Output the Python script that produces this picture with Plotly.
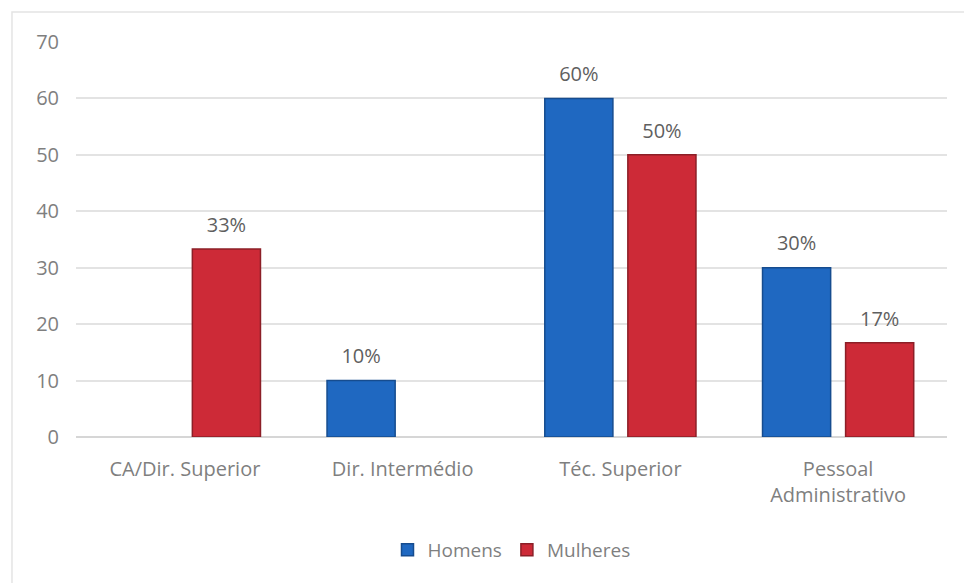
import plotly.graph_objects as go

categories = ["CA/Dir. Superior", "Dir. Intermédio", "Téc. Superior", "Pessoal<br>Administrativo"]
homens = [None, 10, 60, 30]
mulheres = [33.3, None, 50, 16.7]

series = [
    ("Homens", homens, "#1f68c1", "#164c8f"),
    ("Mulheres", mulheres, "#cd2a37", "#8c1f27"),
]

FONT = "Open Sans, Noto Sans, sans-serif"
TEXT_GREY = "#5f5f5f"
TICK_GREY = "#7f7f7f"
FS = 20

fig = go.Figure()
for name, vals, fill, edge in series:
    fig.add_trace(go.Bar(
        name=name, x=categories, y=vals,
        marker=dict(color=fill, line=dict(color=edge, width=1.5)),
    ))

# value labels placed above each bar, aligned to the grouped bar slots
for name, vals, fill, edge in series:
    fig.add_trace(go.Scatter(
        x=categories, y=vals, mode="markers+text",
        text=[None if v is None else f"{v:.0f}%" for v in vals],
        textposition="top center",
        textfont=dict(family=FONT, size=FS, color=TEXT_GREY),
        marker=dict(size=18, opacity=0),
        showlegend=False, hoverinfo="skip", cliponaxis=False,
    ))

fig.update_layout(
    width=964, height=583,
    margin=dict(l=76, r=17, t=42, b=146),
    paper_bgcolor="white", plot_bgcolor="white",
    barmode="group", bargap=0.237, bargroupgap=0.18,
    scattermode="group", scattergap=0.237,
    font=dict(family=FONT, size=FS, color=TICK_GREY),
    legend=dict(orientation="h", x=0.5, xanchor="center", y=-0.286, yanchor="middle",
                font=dict(family=FONT, size=FS - 1, color=TICK_GREY),
                itemwidth=30, tracegroupgap=0),
    shapes=[dict(type="rect", xref="paper", yref="paper",
                 x0=-0.0735, x1=1.2, y0=-0.6, y1=1.076,
                 line=dict(color="#e4e4e4", width=1.5), layer="below")],
)
fig.update_yaxes(range=[0, 70], dtick=10, showgrid=True, gridcolor="#e3e3e3", gridwidth=1.5,
                 zeroline=True, zerolinecolor="#d6d6d6", zerolinewidth=1.5,
                 showline=False, ticks="", ticklabelstandoff=16,
                 tickfont=dict(family=FONT, size=FS, color=TICK_GREY))
fig.update_xaxes(showline=False, ticks="", ticklabelstandoff=18,
                 tickfont=dict(family=FONT, size=FS, color=TICK_GREY))

fig.write_html("out.html")
